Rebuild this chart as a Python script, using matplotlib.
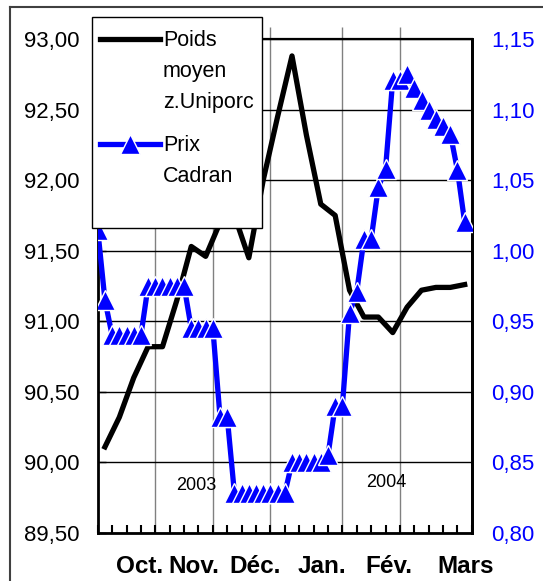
import numpy as np
import matplotlib.pyplot as plt
from matplotlib import font_manager
from matplotlib.lines import Line2D
from matplotlib.patches import Rectangle


def pick_font(names):
    # first family that is really installed
    for name in names:
        try:
            font_manager.findfont(name, fallback_to_default=False)
            return name
        except ValueError:
            continue
    return 'DejaVu Sans'


regular = pick_font(['Liberation Sans', 'Arial'])

# weekly average weight (left axis), one point per week
weeks = np.arange(26)
poids = [90.11, 90.32, 90.60, 90.82, 90.82, 91.15, 91.53, 91.46, 91.70, 91.75,
         91.45, 92.00, 92.45, 92.88, 92.32, 91.83, 91.75, 91.22, 91.03, 91.03,
         90.92, 91.10, 91.22, 91.24, 91.24, 91.26]

# Cadran price (right axis), two sessions per week
prix = [1.015, 0.965,
        0.94, 0.94, 0.94, 0.94, 0.94,
        0.975, 0.975, 0.975, 0.975, 0.975, 0.975,
        0.945, 0.945, 0.945, 0.945,
        0.882, 0.882,
        0.828, 0.828, 0.828, 0.828, 0.828, 0.828, 0.828, 0.828,
        0.85, 0.85, 0.85, 0.85, 0.85, 0.855,
        0.89, 0.89, 0.956, 0.971, 1.008, 1.008, 1.045, 1.058,
        1.121, 1.121, 1.125, 1.115, 1.107, 1.10, 1.093, 1.088, 1.083,
        1.057, 1.02]
sessions = np.arange(len(prix)) * 0.5 - 0.5

months = ['Oct.', 'Nov.', 'Déc.', 'Jan.', 'Fév.', 'Mars']
month_pos = [2.4, 6.19, 10.43, 15.09, 19.75, 25.1]
month_edges = [3.5, 7.5, 11.5, 16.5, 20.5]

left_ticks = np.arange(89.5, 93.01, 0.5)
right_ticks = np.arange(0.80, 1.151, 0.05)

blue = '#0000FF'

fig = plt.figure(figsize=(5.43, 5.81), dpi=100)
ax = fig.add_axes([0.18, 0.0826, 0.689, 0.8503])

ax.plot(weeks, poids, color='black', lw=3.8, zorder=3)
ax.set_xlim(-0.5, 25.5)
ax.set_ylim(89.5, 93.0)

ax.set_yticks(left_ticks)
ax.set_yticklabels([f'{v:.2f}'.replace('.', ',') for v in left_ticks],
                   fontfamily=regular, fontsize=16)
ax.yaxis.grid(True, color='black', lw=1)
ax.set_axisbelow(True)
ax.set_xticks(np.arange(-0.5, 25.6, 1))
ax.set_xticklabels([])
ax.tick_params(axis='x', direction='in', length=6, width=1.5)
ax.tick_params(axis='y', direction='in', length=6, width=1, pad=13)

# month separators, a bit taller than the plot like the original
ax.vlines(month_edges, 0, 1.024, transform=ax.get_xaxis_transform(),
          colors='#808080', lw=1, clip_on=False, zorder=0.5)

for m, xp in zip(months, month_pos):
    ax.text(xp, -0.067, m, transform=ax.get_xaxis_transform(), ha='center',
            va='center', fontsize=17.5, fontweight='bold', fontfamily=regular)

ax.text(6.33, 89.84, '2003', ha='center', va='center', fontsize=13,
        fontfamily=regular)
ax.text(19.54, 89.86, '2004', ha='center', va='center', fontsize=13,
        fontfamily=regular)

for s in ['left', 'bottom', 'right']:
    ax.spines[s].set_linewidth(2)
ax.spines['top'].set_linewidth(1.6)

ax2 = ax.twinx()
ax2.plot(sessions, prix, color=blue, lw=3.8, marker='^', ms=15,
         mec='white', mew=1, zorder=3)
ax2.set_ylim(0.80, 1.15)
ax2.set_yticks(right_ticks)
ax2.set_yticklabels([f'{v:.2f}'.replace('.', ',') for v in right_ticks],
                    fontfamily=regular, fontsize=16, color=blue)
ax2.tick_params(axis='y', length=0, pad=14)
for s in ['left', 'top', 'bottom']:
    ax2.spines[s].set_visible(False)
ax2.spines['right'].set_linewidth(2)

# legend drawn by hand: box, handles and multi-line labels
ax2.add_patch(Rectangle((-0.0152, 0.6174), 0.4542, 0.4271,
                        transform=ax2.transAxes, facecolor='white',
                        edgecolor='black', lw=1, clip_on=False, zorder=4))
ax2.add_line(Line2D([0.006, 0.1664], [1.0, 1.0], transform=ax2.transAxes,
                    color='black', lw=3.8, clip_on=False, zorder=5))
ax2.add_line(Line2D([0.006, 0.0862, 0.1664], [0.7874] * 3,
                    transform=ax2.transAxes, color=blue, lw=3.8, marker='^',
                    ms=15, mec='white', mew=1, markevery=[1],
                    clip_on=False, zorder=5))
ax2.text(0.1745, 1.018, 'Poids\nmoyen\nz.Uniporc', transform=ax2.transAxes,
         va='top', ha='left', fontsize=15.5, fontfamily=regular,
         linespacing=1.62, zorder=6)
ax2.text(0.1745, 0.806, 'Prix\nCadran', transform=ax2.transAxes,
         va='top', ha='left', fontsize=15.5, fontfamily=regular,
         linespacing=1.62, zorder=6)

# outer frame of the picture
fig.add_artist(Line2D([10 / 543, 10 / 543], [0, 1 - 7 / 581],
                      transform=fig.transFigure, color='#404040', lw=1.5))
fig.add_artist(Line2D([10 / 543, 1], [1 - 7 / 581, 1 - 7 / 581],
                      transform=fig.transFigure, color='#404040', lw=1.5))

fig.savefig('out.png', dpi=100)
